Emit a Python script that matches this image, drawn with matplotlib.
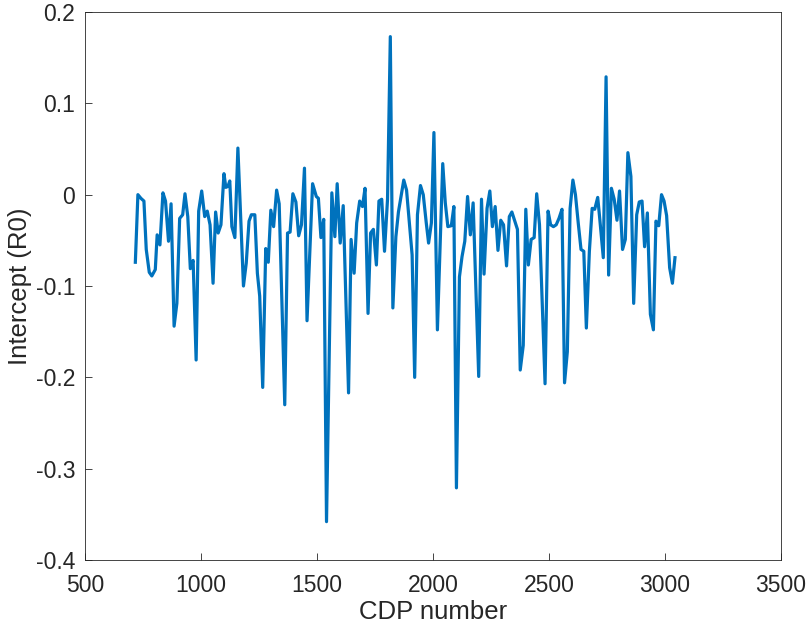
import matplotlib
matplotlib.use("Agg")
import matplotlib.pyplot as plt

cdp = [717, 728, 741, 754, 764, 777, 788, 803, 811, 823, 836, 847, 860, 871, 884, 896, 908, 921, 931, 943,
       954, 966, 979, 990, 1003, 1016, 1027, 1039, 1052, 1063, 1074, 1086, 1099, 1107, 1116, 1124, 1133, 1146,
       1159, 1183, 1195, 1207, 1217, 1232, 1243, 1253, 1266, 1279, 1290, 1301, 1313, 1326, 1337, 1361, 1373,
       1384, 1396, 1409, 1421, 1433, 1446, 1457, 1481, 1497, 1506, 1517, 1529, 1541, 1564, 1577, 1587, 1600,
       1613, 1636, 1647, 1660, 1671, 1684, 1696, 1707, 1720, 1731, 1743, 1756, 1767, 1779, 1791, 1804, 1816,
       1827, 1840, 1851, 1874, 1886, 1910, 1921, 1933, 1946, 1958, 1971, 1981, 1993, 2004, 2019, 2042, 2053,
       2064, 2079, 2090, 2101, 2114, 2125, 2137, 2149, 2161, 2173, 2197, 2209, 2220, 2233, 2245, 2256, 2268,
       2280, 2292, 2304, 2317, 2329, 2340, 2364, 2376, 2389, 2400, 2411, 2423, 2436, 2447, 2459, 2483, 2496,
       2507, 2519, 2531, 2543, 2556, 2567, 2579, 2591, 2603, 2614, 2626, 2638, 2650, 2661, 2674, 2686, 2697,
       2710, 2719, 2734, 2746, 2757, 2769, 2781, 2793, 2804, 2817, 2829, 2840, 2853, 2865, 2878, 2889, 2901,
       2912, 2924, 2937, 2950, 2961, 2973, 2985, 2996, 3007, 3020, 3032, 3043]

intercept = [-0.074, 0.000, -0.004, -0.007, -0.060, -0.085, -0.089, -0.082, -0.044, -0.055, 0.002, -0.007,
             -0.051, -0.010, -0.144, -0.119, -0.026, -0.022, 0.001, -0.024, -0.081, -0.072, -0.181, -0.018,
             0.004, -0.024, -0.018, -0.033, -0.097, -0.019, -0.042, -0.033, 0.023, 0.008, 0.009, 0.015, -0.035,
             -0.047, 0.051, -0.100, -0.075, -0.029, -0.022, -0.022, -0.086, -0.111, -0.211, -0.059, -0.074,
             -0.017, -0.035, 0.005, -0.010, -0.230, -0.042, -0.041, 0.001, -0.008, -0.045, -0.033, 0.029,
             -0.138, 0.012, -0.002, -0.004, -0.047, -0.027, -0.358, 0.002, -0.046, 0.012, -0.053, -0.012,
             -0.217, -0.049, -0.086, -0.031, -0.007, -0.013, 0.007, -0.130, -0.042, -0.038, -0.077, -0.007,
             -0.005, -0.062, -0.005, 0.173, -0.124, -0.046, -0.019, 0.016, 0.005, -0.066, -0.200, -0.022, 0.010,
             0.000, -0.031, -0.053, -0.031, 0.068, -0.148, 0.034, -0.009, -0.035, -0.034, -0.013, -0.321,
             -0.090, -0.068, -0.051, -0.002, -0.044, -0.009, -0.199, -0.005, -0.087, -0.015, 0.004, -0.035,
             -0.013, -0.061, -0.028, -0.033, -0.078, -0.024, -0.019, -0.038, -0.192, -0.165, -0.016, -0.077,
             -0.049, -0.047, 0.001, -0.033, -0.207, -0.018, -0.033, -0.035, -0.033, -0.026, -0.016, -0.206,
             -0.172, -0.015, 0.016, 0.000, -0.031, -0.060, -0.062, -0.146, -0.062, -0.015, -0.016, -0.003,
             -0.027, -0.069, 0.129, -0.088, 0.007, -0.005, -0.028, 0.004, -0.060, -0.049, 0.046, 0.020, -0.119,
             -0.022, -0.008, -0.007, -0.057, -0.020, -0.131, -0.148, -0.029, -0.034, 0.000, -0.007, -0.023,
             -0.080, -0.097, -0.069]

xticks = [500, 1000, 1500, 2000, 2500, 3000, 3500]
yticks = [-0.4, -0.3, -0.2, -0.1, 0, 0.1, 0.2]
ytick_labels = ["-0.4", "-0.3", "-0.2", "-0.1", "0", "0.1", "0.2"]

plt.rcParams['font.family'] = ['Liberation Sans', 'DejaVu Sans']
txt = '#262626'

fig = plt.figure(figsize=(8.08, 6.26), dpi=100)
ax = fig.add_axes([85/808, 1-560/626, (781-85)/808, (560-12)/626])
ax.plot(cdp, intercept, color='#0072BD', linewidth=2.3)
ax.set_xlim(500, 3500)
ax.set_ylim(-0.4, 0.2)
ax.set_xticks(xticks)
ax.set_xticklabels([str(v) for v in xticks])
ax.set_yticks(yticks)
ax.set_yticklabels(ytick_labels)
ax.tick_params(direction='in', length=5, width=0.6, colors=txt, labelsize=16.5)
ax.tick_params(axis='x', pad=10)
ax.tick_params(axis='y', pad=7)
for s in ax.spines.values():
    s.set_color(txt)
    s.set_linewidth(0.6)
ax.set_xlabel('CDP number', fontsize=18.5, color=txt, labelpad=2)
ax.set_ylabel('Intercept (R0)', fontsize=18.5, color=txt, labelpad=3)
fig.savefig('out.png', dpi=100)
